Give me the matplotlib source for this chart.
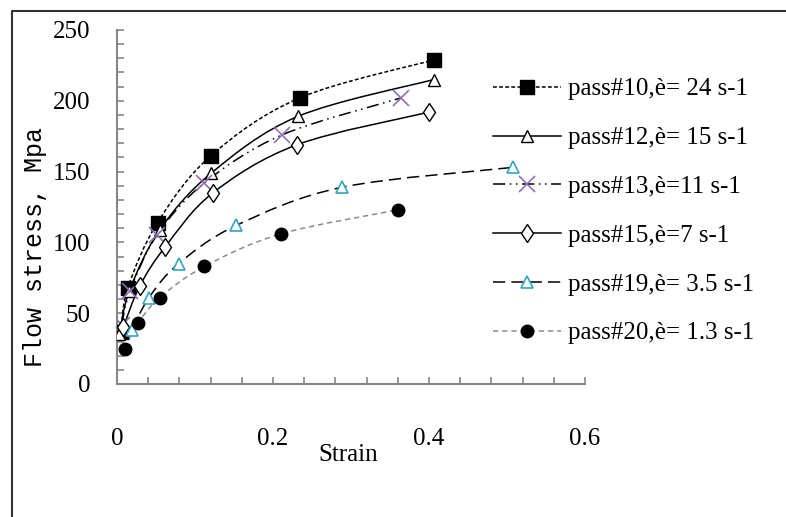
import numpy as np
import matplotlib
matplotlib.use("Agg")
import matplotlib.pyplot as plt
from matplotlib.path import Path
from matplotlib.patches import PathPatch
from matplotlib.lines import Line2D

# strain / flow stress readings for each pass
p10_x = [0.005, 0.014, 0.052, 0.120, 0.234, 0.407]
p10_y = [37, 68, 114, 161, 202, 229]
p12_x = [0.003, 0.016, 0.055, 0.121, 0.232, 0.406]
p12_y = [35, 66, 109, 149, 189, 215]
p13_x = [0.006, 0.017, 0.051, 0.112, 0.212, 0.364]
p13_y = [42, 66, 105, 142, 176, 202]
p15_x = [0.008, 0.029, 0.062, 0.123, 0.231, 0.400]
p15_y = [40, 69, 97, 135, 169, 192]
p19_x = [0.019, 0.041, 0.079, 0.153, 0.289, 0.508]
p19_y = [38, 61, 85, 112, 139, 153]
p20_x = [0.010, 0.027, 0.055, 0.112, 0.210, 0.360]
p20_y = [25, 43, 61, 83, 106, 123]

labels = ["pass#10,è= 24 s-1", "pass#12,è= 15 s-1", "pass#13,è=11 s-1",
          "pass#15,è=7 s-1", "pass#19,è= 3.5 s-1", "pass#20,è= 1.3 s-1"]

serif = "Liberation Serif"
plt.rcParams["font.family"] = serif


def smooth_path(xs, ys):
    # excel-like smoothed line: catmull-rom segments as cubic beziers
    p = np.column_stack([xs, ys]).astype(float)
    ext = np.vstack([p[0], p, p[-1]])
    verts = [p[0]]
    codes = [Path.MOVETO]
    for i in range(len(p) - 1):
        a, b, c, d = ext[i], ext[i + 1], ext[i + 2], ext[i + 3]
        verts += [b + (c - a) / 6, c - (d - b) / 6, c]
        codes += [Path.CURVE4] * 3
    return Path(verts, codes)


fig = plt.figure(figsize=(7.86, 5.17), dpi=100)
ax = fig.add_axes([117 / 786, 1 - 384 / 517, 468 / 786, 354 / 517])

series = [
    (p10_x, p10_y, dict(color="black", dashes=(2.5, 1.5)),
     dict(marker="s", ms=10.5, mfc="black", mec="black")),
    (p12_x, p12_y, dict(color="black", dashes=None),
     dict(marker="^", ms=8.5, mfc="white", mec="black", mew=1)),
    (p13_x, p13_y, dict(color="black", dashes=(8, 3, 1, 3, 1, 3)),
     dict(marker="x", ms=11, mec="#8e6fb3", mew=1.2)),
    (p15_x, p15_y, dict(color="black", dashes=None),
     dict(marker="d", ms=9.5, mfc="white", mec="black", mew=1)),
    (p19_x, p19_y, dict(color="black", dashes=(8, 4)),
     dict(marker="^", ms=8.5, mfc="white", mec="#31a6c0", mew=1.2)),
    (p20_x, p20_y, dict(color="#8c8c8c", dashes=(3.5, 2.5)),
     dict(marker="o", ms=9, mfc="black", mec="black")),
]

handles = []
for xs, ys, ln, mk in series:
    ls = "-" if ln["dashes"] is None else (0, ln["dashes"])
    patch = PathPatch(smooth_path(xs, ys), fill=False, edgecolor=ln["color"],
                      lw=1.1, linestyle=ls, zorder=2)
    ax.add_patch(patch)
    ax.plot(xs, ys, ls="none", zorder=3, **mk)
    handles.append(Line2D([], [], color=ln["color"], lw=1.1, linestyle=ls, **mk))

xt = np.arange(0, 0.61, 0.04)
yt = np.arange(0, 251, 10)
ax.set_xlim(0, 0.6)
ax.set_ylim(0, 250)
ax.set_xticks(xt)
ax.set_xticklabels(["%g" % round(t, 1) if abs(round(t / 0.2) - t / 0.2) < 1e-6 else "" for t in xt])
ax.set_yticks(yt)
ax.set_yticklabels([str(int(t)) if t % 50 == 0 else "" for t in yt])
ax.tick_params(direction="in", length=5, width=1.2, color="#868686", labelsize=18)
ax.tick_params(axis="x", pad=32)
ax.tick_params(axis="y", pad=19)
for s in ["top", "right"]:
    ax.spines[s].set_visible(False)
for s in ["left", "bottom"]:
    ax.spines[s].set_color("#868686")
    ax.spines[s].set_linewidth(1.5)

fig.text(348 / 786, 1 - 455 / 517, "Strain", fontsize=18, ha="center", va="center")
fig.text(35 / 786, 1 - 247 / 517, "Flow stress, Mpa", family="Liberation Mono",
         fontsize=18, rotation=90, ha="center", va="center")

leg = fig.legend(handles, labels, loc="upper left", bbox_to_anchor=(493 / 786, 1 - 78 / 517),
                 frameon=False, fontsize=18, borderpad=0, borderaxespad=0,
                 handlelength=2.7, handletextpad=0.28, labelspacing=1.05)

# outer border of the chart area
fig.add_artist(Line2D([12 / 786, 12 / 786, 1.01], [-0.01, 1 - 11 / 517, 1 - 11 / 517],
                      color="#333333", lw=1.5))

fig.savefig("out.png", dpi=100)
